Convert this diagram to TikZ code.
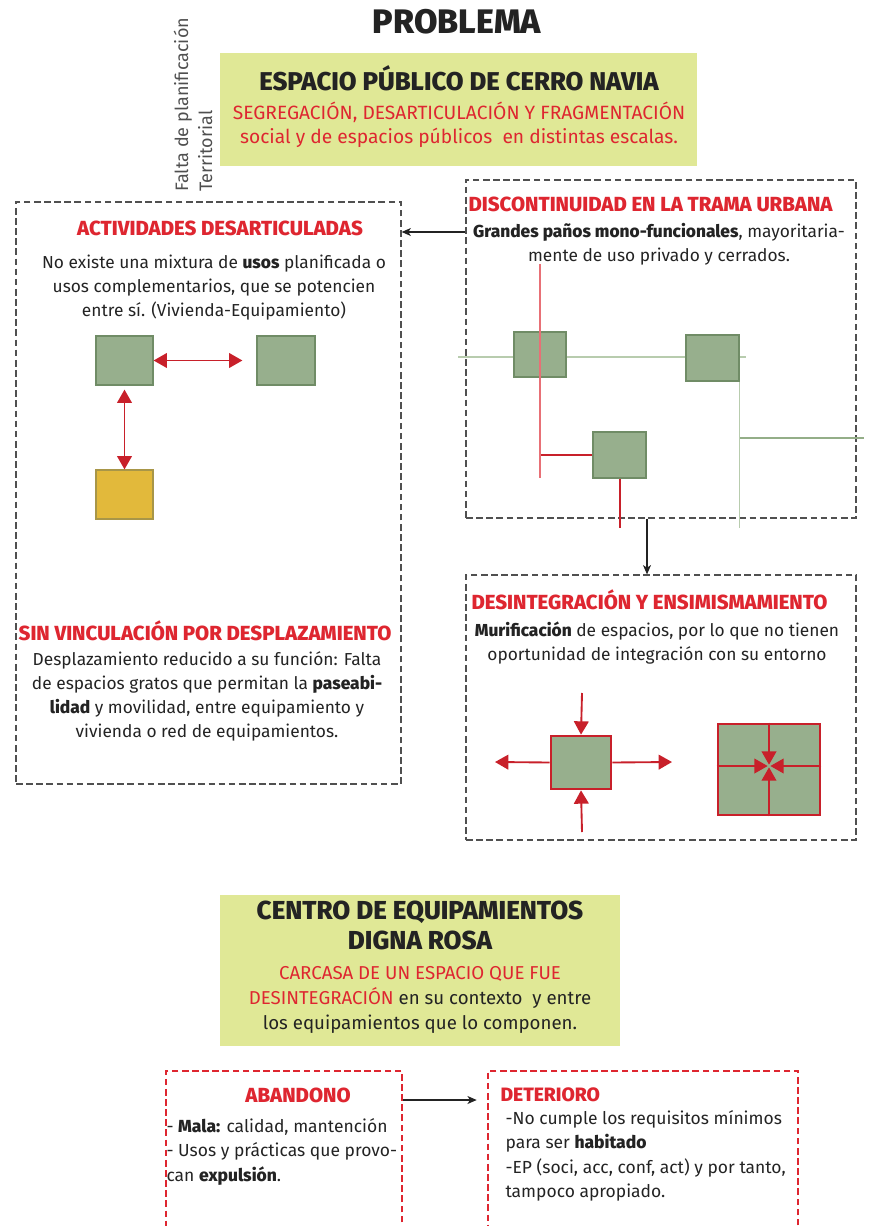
\documentclass[tikz,border=0pt]{standalone}
\usepackage{fontspec}
\setmainfont{Fira Sans}[BoldFont={Fira Sans ExtraBold}]
\usetikzlibrary{arrows.meta,fit}

\definecolor{txtred}{RGB}{222,38,48}
\definecolor{panel}{RGB}{224,232,150}
\definecolor{sqgreen}{RGB}{151,175,141}
\definecolor{sqedge}{RGB}{112,140,102}
\definecolor{sqyellow}{RGB}{226,185,59}
\definecolor{yedge}{RGB}{168,150,72}
\definecolor{dashgray}{RGB}{80,80,80}
\definecolor{linered}{RGB}{200,32,42}
\definecolor{lightred}{RGB}{232,112,118}
\definecolor{lightgreen}{RGB}{184,204,174}
\definecolor{midgreen}{RGB}{148,174,136}
\definecolor{ink}{RGB}{35,35,35}

\tikzset{
  dbox/.style={draw=dashgray, line width=0.9pt, dash pattern=on 5pt off 2.6pt, inner sep=0pt},
  rbox/.style={dbox, draw=txtred},
  panelbox/.style={fill=panel, inner sep=0pt},
  sq/.style={fill=sqgreen, draw=sqedge, line width=0.9pt, inner sep=0pt},
  msq/.style={fill=sqgreen, draw=linered, line width=2pt, inner sep=0pt},
  head/.style={text=txtred, inner sep=0pt, font=\bfseries\fontsize{15.3}{17}\selectfont},
  body/.style={text=ink, inner sep=0pt, align=center, font=\fontsize{13}{18}\selectfont},
  cbody/.style={text=ink, inner sep=0pt, font=\fontsize{13.1}{18.4}\selectfont},
  redarr/.style={draw=linered, line width=1.4pt, -{Triangle[length=10pt,width=11pt]}},
  dblarr/.style={redarr, {Triangle[length=10pt,width=11pt]}-{Triangle[length=10pt,width=11pt]}},
  grayarr/.style={draw=ink, line width=0.9pt, -{Stealth[length=7pt,width=6pt,inset=2pt]}},
}

\begin{document}
\begin{tikzpicture}[x=0.75pt, y=-0.75pt, thick]
  \useasboundingbox (0,0) rectangle (869,1226);
  \clip (0,0) rectangle (869,1226);

  % Title
  \node[text=ink, inner sep=0pt, font=\bfseries\fontsize{25.5}{27}\selectfont] (prob) at (457,22) {PROBLEMA};
  \node[rotate=90, anchor=west, align=left, inner sep=0pt, text=ink!80, font=\fontsize{13.5}{18}\selectfont] (falta) at (193,192) {Falta de planificación\\Territorial};

  % Top panel
  \node[panelbox, fit={(220,53) (697,166)}] (espacio) {};
  \node[text=ink, inner sep=0pt, font=\bfseries\fontsize{19.3}{21}\selectfont] (espt) at (459,78) {ESPACIO PÚBLICO DE CERRO NAVIA};
  \node[body, text=txtred, font=\fontsize{14.4}{18.4}\selectfont] (espsub) at (459,125) {SEGREGACIÓN, DESARTICULACIÓN Y FRAGMENTACIÓN\\social y de espacios públicos\ \ en distintas escalas.};

  % Left box
  \node[dbox, fit={(16,202) (401,784)}] (act) {};
  \node[head] (acth) at (220,228) {ACTIVIDADES DESARTICULADAS};
  \node[body] (actt) at (214,288) {No existe una mixtura de \textbf{usos} planificada o\\usos complementarios, que se potencien\\entre sí. (Vivienda-Equipamiento)};
  \node[sq, fit={(96,336) (153,385)}] (sqA) {};
  \node[sq, fit={(257,336) (315,385)}] (sqB) {};
  \node[sq, fill=sqyellow, draw=yedge, fit={(96,470) (153,519)}] (sqC) {};
  \draw[dblarr, shorten >=10.5pt] (sqA) -- (sqB);
  \draw[dblarr, shorten <=3pt] (sqA) -- (sqC);
  \node[head] (sinh) at (205,631) {SIN VINCULACIÓN POR DESPLAZAMIENTO};
  \node[body] (sint) at (207,696) {Desplazamiento reducido a su función: Falta\\de espacios gratos que permitan la \textbf{paseabi-}\\\textbf{lidad} y movilidad, entre equipamiento y\\vivienda o red de equipamientos.};

  % Right top box
  \node[dbox, fit={(466,180) (856,518)}] (disc) {};
  \node[head, anchor=west] (disch) at (468,204) {DISCONTINUIDAD EN LA TRAMA URBANA};
  \node[body] (disct) at (659,244.5) {\textbf{Grandes paños mono-funcionales}, mayoritaria-\\mente de uso privado y cerrados.};
  \coordinate (gy) at (0,232);
  \draw[grayarr] (disc.west |- gy) -- (act.east |- gy);

  % Trama
  \draw[lightgreen, line width=1.1pt] (458,357) -- (746,357);
  \node[sq, fit={(514,332) (566,377)}] (t1) {};
  \node[sq, fit={(686,335) (739,381)}] (t2) {};
  \node[sq, fit={(593,432) (646,478)}] (t3) {};
  \draw[lightred, line width=1.1pt] (540,264) -- (540,478);
  \draw[linered, line width=1.5pt] (t3.west) -- (t3.west -| 541,0);
  \draw[linered, line width=1.5pt] (t3.south) -- ++(0,49);
  \draw[lightgreen, line width=1.1pt] (t2.south east) -- ++(0,146);
  \draw[midgreen, line width=1.4pt] (740,438) -- (864,438);

  % Down arrow
  \node[dbox, fit={(466,575) (856,840)}] (desin) {};
  \coordinate (dn) at (647,0);
  \draw[grayarr] (disc.south -| dn) -- (desin.north -| dn);
  \node[head, anchor=west] (desinh) at (471,600) {DESINTEGRACIÓN Y ENSIMISMAMIENTO};
  \node[body] (desint) at (657,643.5) {\textbf{Murificación} de espacios, por lo que no tienen\\oportunidad de integración con su entorno};

  % Murificacion
  \node[msq, fit={(551,736) (611,789)}] (mur) {};
  \coordinate (mt) at (582,693);
  \coordinate (mb) at (582,832);
  \coordinate (ml) at (495,762);
  \coordinate (mr) at (672,762);
  \draw[redarr] (mt) -- (mur.north);
  \draw[redarr] (mb) -- (mur.south);
  \draw[redarr] (mur.west) -- (ml);
  \draw[redarr] (mur.east) -- (mr);
  \node[msq, fit={(718,724) (820,815)}] (ens) {};
  \coordinate (nc) at (769,766);
  \draw[redarr, shorten >=1pt] (ens.north -| nc) -- (nc);
  \draw[redarr, shorten >=1pt] (ens.south -| nc) -- (nc);
  \draw[redarr, shorten >=1pt] (ens.west |- nc) -- (nc);
  \draw[redarr, shorten >=1pt] (ens.east |- nc) -- (nc);

  % Bottom panel
  \node[panelbox, fit={(220,895) (620,1046)}] (centro) {};
  \node[align=center, text=ink, inner sep=0pt, font=\bfseries\fontsize{19.5}{23}\selectfont] (centt) at (420,925.5) {CENTRO DE EQUIPAMIENTOS\\DIGNA ROSA};
  \node[cbody, align=center, font=\fontsize{14}{18.8}\selectfont] (cents) at (420,1000) {\textcolor{txtred}{CARCASA DE UN ESPACIO QUE FUE}\\\textcolor{txtred}{DESINTEGRACIÓN} en su contexto\ \ y entre\\los equipamientos que lo componen.};

  % Bottom boxes
  \node[rbox, fit={(166,1071) (402,1260)}] (aband) {};
  \node[rbox, fit={(488,1071) (798,1260)}] (deter) {};
  \coordinate (ay) at (0,1100);
  \draw[grayarr, shorten >=8pt] (aband.east |- ay) -- (deter.west |- ay);
  \node[head, font=\bfseries\fontsize{15.3}{17}\selectfont] (abandh) at (298,1095) {ABANDONO};
  \node[head, anchor=west, font=\bfseries\fontsize{14.5}{17}\selectfont] (deterh) at (500,1095) {DETERIORO};
  \node[cbody, anchor=west, align=left] (abandt) at (166,1151.5) {- \textbf{Mala:} calidad, mantención\\- Usos y prácticas que provo-\\can \textbf{expulsión}.};
  \node[cbody, anchor=west, align=left] (detert) at (505,1156) {-No cumple los requisitos mínimos\\para ser \textbf{habitado}\\-EP (soci, acc, conf, act) y por tanto,\\tampoco apropiado.};
\end{tikzpicture}
\end{document}
